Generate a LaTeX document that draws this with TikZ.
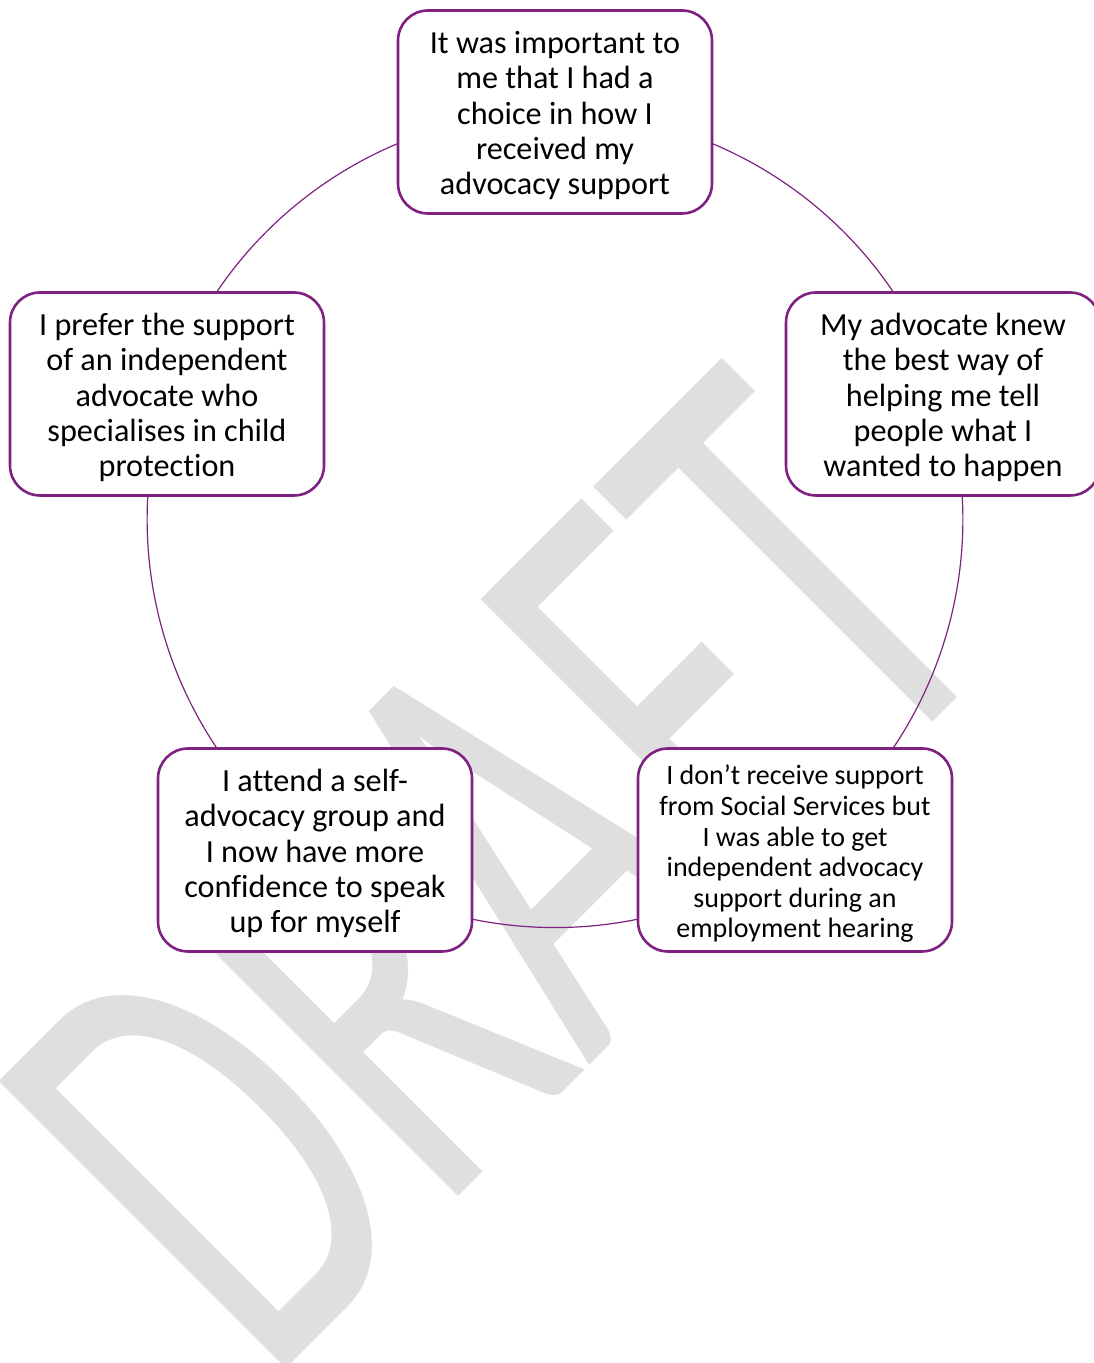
\documentclass[tikz,border=0pt]{standalone}
\usepackage{fontspec}
\setmainfont{Carlito}[Ligatures=NoCommon]
\usetikzlibrary{backgrounds}

\definecolor{plum}{RGB}{126,33,128}
\definecolor{wmgray}{RGB}{223,223,223}

\begin{document}
\begin{tikzpicture}[
  x=1pt, y=1pt,
  font=\fontsize{32.2}{35.2}\selectfont,
  box/.style={
    rectangle, rounded corners=30pt,
    minimum width=314pt, minimum height=203pt, align=center,
    inner sep=0pt, draw=plum, line width=2.6pt, fill=white,
    text height=165.2pt, text depth=0pt
  },
  smalltext/.style={font=\fontsize{28}{30.6}\selectfont, text height=176pt},
  link/.style={plum, line width=1.2pt},
  watermark/.style={
    rotate=45, xscale=0.62, anchor=base, inner sep=0pt,
    text=wmgray, font=\fontsize{633}{633}\selectfont
  },
]
\useasboundingbox (0,0) rectangle (1094,1363);

% statements round the cycle
\node[box] (top)    at (555,1251)  {It was important to\\me that I had a\\choice in how I\\received my\\advocacy support};
\node[box] (right)  at (943,969)   {My advocate knew\\the best way of\\helping me tell\\people what I\\wanted to happen};
\node[box, smalltext] (bright) at (795,513) {I don’t receive support\\from Social Services but\\I was able to get\\independent advocacy\\support during an\\employment hearing};
\node[box] (bleft)  at (315,513)   {I attend a self-\\advocacy group and\\I now have more\\confidence to speak\\up for myself};
\node[box] (left)   at (167,969)   {I prefer the support\\of an independent\\advocate who\\specialises in child\\protection};

\begin{scope}[on background layer]
% watermark behind everything
\node[watermark] (draft) at (640,348) {DRAFT};

% circle arcs between the statements
\draw[link] (top.center)    to[bend left=36, looseness=0.94] (right.center);
\draw[link] (right.center)  to[bend left=36, looseness=0.94] (bright.center);
\draw[link] (bright.center) to[bend left=36, looseness=0.94] (bleft.center);
\draw[link] (bleft.center)  to[bend left=36, looseness=0.94] (left.center);
\draw[link] (left.center)   to[bend left=36, looseness=0.94] (top.center);
\end{scope}

\end{tikzpicture}
\end{document}
